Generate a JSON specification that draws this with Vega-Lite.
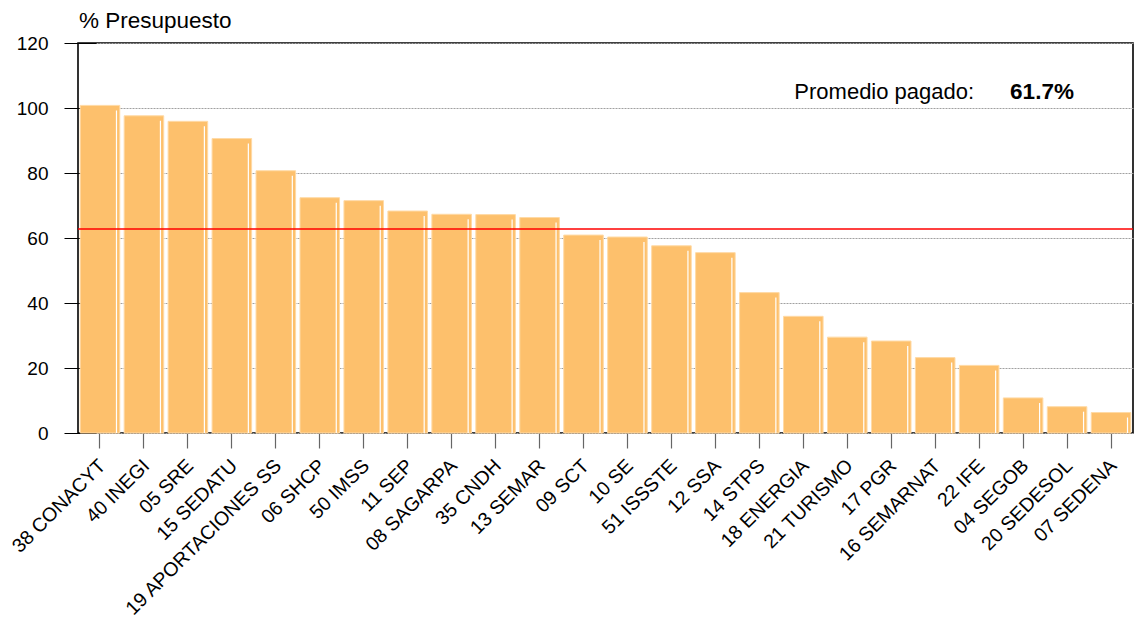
{
  "$schema": "https://vega.github.io/schema/vega-lite/v6.json",
  "width": 1055,
  "height": 390,
  "autosize": {"type": "none"},
  "padding": {"left": 78, "top": 43, "right": 6, "bottom": 186},
  "background": "white",
  "config": {
    "font": "Liberation Sans",
    "view": {"stroke": "black", "strokeWidth": 1.6},
    "axis": {"labelFont": "Liberation Sans", "labelColor": "black"}
  },
  "title": {
    "text": "% Presupuesto",
    "anchor": "start",
    "frame": "group",
    "offset": 2,
    "fontSize": 22.5,
    "font": "Liberation Sans",
    "fontWeight": "normal",
    "color": "black",
    "dx": 1
  },
  "datasets": {
    "bars": [
      {"dependencia": "38 CONACYT", "valor": 100.8},
      {"dependencia": "40 INEGI", "valor": 97.6},
      {"dependencia": "05 SRE", "valor": 95.9},
      {"dependencia": "15 SEDATU", "valor": 90.6},
      {"dependencia": "19 APORTACIONES SS", "valor": 80.7},
      {"dependencia": "06 SHCP", "valor": 72.4},
      {"dependencia": "50 IMSS", "valor": 71.5},
      {"dependencia": "11 SEP", "valor": 68.3},
      {"dependencia": "08 SAGARPA", "valor": 67.3},
      {"dependencia": "35 CNDH", "valor": 67.2},
      {"dependencia": "13 SEMAR", "valor": 66.3},
      {"dependencia": "09 SCT", "valor": 60.9},
      {"dependencia": "10 SE", "valor": 60.3},
      {"dependencia": "51 ISSSTE", "valor": 57.6},
      {"dependencia": "12 SSA", "valor": 55.5},
      {"dependencia": "14 STPS", "valor": 43.2},
      {"dependencia": "18 ENERGIA", "valor": 35.9},
      {"dependencia": "21 TURISMO", "valor": 29.5},
      {"dependencia": "17 PGR", "valor": 28.3},
      {"dependencia": "16 SEMARNAT", "valor": 23.2},
      {"dependencia": "22 IFE", "valor": 20.8},
      {"dependencia": "04 SEGOB", "valor": 10.8},
      {"dependencia": "20 SEDESOL", "valor": 8.1},
      {"dependencia": "07 SEDENA", "valor": 6.3}
    ],
    "avg": [
      {"promedio_pagado": 61.7, "linea": 62.8}
    ]
  },
  "layer": [
    {
      "data": {"name": "bars"},
      "mark": {"type": "bar", "fill": "#FDC06C", "stroke": "#FFDAA6", "strokeWidth": 1},
      "encoding": {
        "x": {
          "field": "dependencia",
          "type": "nominal",
          "sort": null,
          "scale": {"paddingInner": 0.1, "paddingOuter": 0.05},
          "axis": {
            "title": null,
            "labelAngle": -45,
            "labelFontSize": 19.5,
            "labelPadding": 8,
            "labelOffset": -4,
            "labelLimit": 400,
            "labelOverlap": false,
            "labelBound": false,
            "tickSize": 15,
            "tickColor": "#666666",
            "tickWidth": 1.2,
            "domain": false,
            "grid": false
          }
        },
        "y": {
          "field": "valor",
          "type": "quantitative",
          "scale": {"domain": [0, 120], "nice": false, "zero": true},
          "axis": {
            "title": null,
            "values": [0, 20, 40, 60, 80, 100, 120],
            "offset": -18,
            "tickSize": 32,
            "tickColor": "black",
            "tickWidth": 1,
            "domain": false,
            "grid": true,
            "gridColor": "#a0a0a0",
            "gridDash": [2, 1],
            "gridWidth": 1,
            "labelFontSize": 19,
            "labelPadding": 16
          }
        }
      }
    },
    {
      "data": {"name": "bars"},
      "mark": {"type": "rule", "color": "white", "strokeWidth": 1.2, "xOffset": 16.5, "yOffset": 5},
      "encoding": {
        "x": {"field": "dependencia", "type": "nominal", "sort": null},
        "y": {"field": "valor", "type": "quantitative"},
        "y2": {"datum": 0}
      }
    },
    {
      "data": {"name": "avg"},
      "mark": {"type": "rule", "color": "#FF0000", "strokeWidth": 1.5},
      "encoding": {
        "y": {"field": "linea", "type": "quantitative"}
      }
    },
    {
      "data": {"name": "bars"},
      "transform": [{"filter": "datum.dependencia == '17 PGR'"}],
      "mark": {"type": "text", "fontSize": 22, "align": "center", "baseline": "alphabetic", "dx": -7, "color": "black"},
      "encoding": {
        "x": {"field": "dependencia", "type": "nominal", "sort": null},
        "y": {"datum": 102.8},
        "text": {"value": "Promedio pagado:"}
      }
    },
    {
      "data": {"name": "bars"},
      "transform": [{"filter": "datum.dependencia == '04 SEGOB'"}],
      "mark": {"type": "text", "fontSize": 22.5, "fontWeight": "bold", "align": "left", "baseline": "alphabetic", "dx": -13, "color": "black"},
      "encoding": {
        "x": {"field": "dependencia", "type": "nominal", "sort": null},
        "y": {"datum": 102.8},
        "text": {"value": "61.7%"}
      }
    }
  ]
}
